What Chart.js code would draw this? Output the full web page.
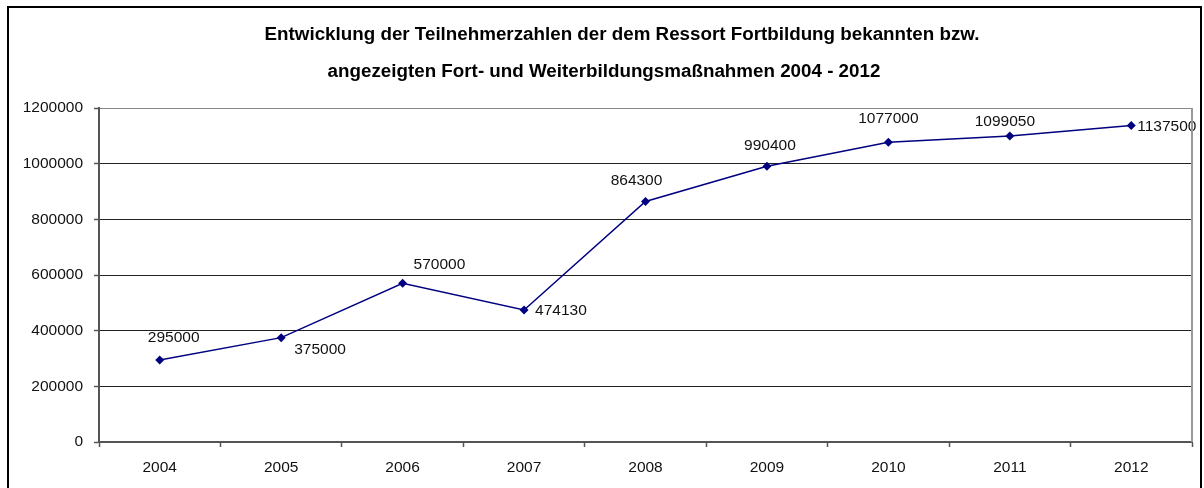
<!DOCTYPE html>
<html>
<head>
<meta charset="utf-8">
<script src="https://cdn.jsdelivr.net/npm/chart.js@4.4.1/dist/chart.umd.min.js"></script>
<style>
  html, body { margin: 0; padding: 0; background: #fff; }
  #wrap { position: relative; width: 1204px; height: 488px; }
</style>
</head>
<body>
<div id="wrap"><canvas id="chart" width="1204" height="488"></canvas></div>
<script>
const years = ["2004", "2005", "2006", "2007", "2008", "2009", "2010", "2011", "2012"];
const participants = [295000, 375000, 570000, 474130, 864300, 990400, 1077000, 1099050, 1137500];
const yMin = 0;
const yMax = 1200000;
const yStep = 200000;
const titleLines = [
  "Entwicklung der Teilnehmerzahlen der dem Ressort Fortbildung bekannten bzw.",
  "angezeigten Fort- und Weiterbildungsmaßnahmen 2004 - 2012",
];

// where each value label sits relative to its point: [align, dx, dy]
const labelPlacement = [
  ["center", 14, -22],
  ["left", 13, 12],
  ["left", 11, -19],
  ["left", 11, 1],
  ["center", -9, -21],
  ["center", 3, -21],
  ["center", 0, -24],
  ["center", -5, -14],
  ["left", 6, 1],
];

const FONT = "'Liberation Sans', Arial, sans-serif";
const NAVY = "#000080";

const frameAndTitle = {
  id: "frameAndTitle",
  beforeDraw(chart) {
    const ctx = chart.ctx;
    ctx.save();
    ctx.fillStyle = "#fff";
    ctx.fillRect(0, 0, chart.width, chart.height);
    ctx.strokeStyle = "#000";
    ctx.lineWidth = 2;
    ctx.strokeRect(8, 7, 1193, 500);
    ctx.fillStyle = "#000";
    ctx.font = "bold 18.8px " + FONT;
    ctx.textAlign = "center";
    ctx.textBaseline = "middle";
    ctx.fillText(titleLines[0], 622, 35);
    ctx.fillText(titleLines[1], 604, 72);
    ctx.restore();
  },
  afterDraw(chart) {
    const a = chart.chartArea;
    const ctx = chart.ctx;
    ctx.save();
    ctx.strokeStyle = "#999";
    ctx.lineWidth = 2;
    ctx.beginPath();
    ctx.moveTo(a.right, a.top);
    ctx.lineTo(a.right, a.bottom);
    ctx.stroke();
    ctx.restore();
  },
};

const valueLabels = {
  id: "valueLabels",
  afterDatasetsDraw(chart) {
    const ctx = chart.ctx;
    const meta = chart.getDatasetMeta(0);
    ctx.save();
    ctx.font = "15.5px " + FONT;
    ctx.fillStyle = "#111";
    ctx.textBaseline = "middle";
    meta.data.forEach((pt, i) => {
      const p = labelPlacement[i];
      ctx.textAlign = p[0];
      ctx.fillText(String(participants[i]), pt.x + p[1], pt.y + p[2]);
    });
    ctx.restore();
  },
};

new Chart(document.getElementById("chart"), {
  type: "line",
  data: {
    labels: years,
    datasets: [
      {
        data: participants,
        borderColor: NAVY,
        borderWidth: 1.5,
        backgroundColor: NAVY,
        pointStyle: "rectRot",
        pointRadius: 4.5,
        pointBorderWidth: 0,
        pointBackgroundColor: NAVY,
        tension: 0,
      },
    ],
  },
  options: {
    responsive: false,
    animation: false,
    layout: { padding: { top: 108, right: 12, bottom: 0, left: 0 } },
    plugins: {
      legend: { display: false },
      title: { display: false },
      tooltip: { enabled: false },
    },
    scales: {
      x: {
        offset: true,
        afterFit(scale) {
          scale.height = 46;
        },
        grid: {
          offset: true,
          drawOnChartArea: false,
          drawTicks: true,
          tickLength: 5,
          tickColor: "#555",
          tickWidth: 1.5,
        },
        border: { display: true, color: "#555", width: 2 },
        ticks: {
          color: "#111",
          padding: 11,
          font: { family: FONT, size: 15.5 },
          maxRotation: 0,
        },
      },
      y: {
        min: yMin,
        max: yMax,
        afterFit(scale) {
          scale.width = 99;
        },
        grid: {
          color: (c) => (c.tick && c.tick.value === yMax ? "#888" : "#222"),
          lineWidth: 1,
          tickLength: 5,
          tickColor: "#555",
          tickWidth: 1.5,
        },
        border: { display: true, color: "#555", width: 2 },
        ticks: {
          stepSize: yStep,
          color: "#111",
          padding: 11,
          font: { family: FONT, size: 15.5 },
          callback: (v) => String(v),
        },
      },
    },
  },
  plugins: [frameAndTitle, valueLabels],
});
</script>
</body>
</html>
